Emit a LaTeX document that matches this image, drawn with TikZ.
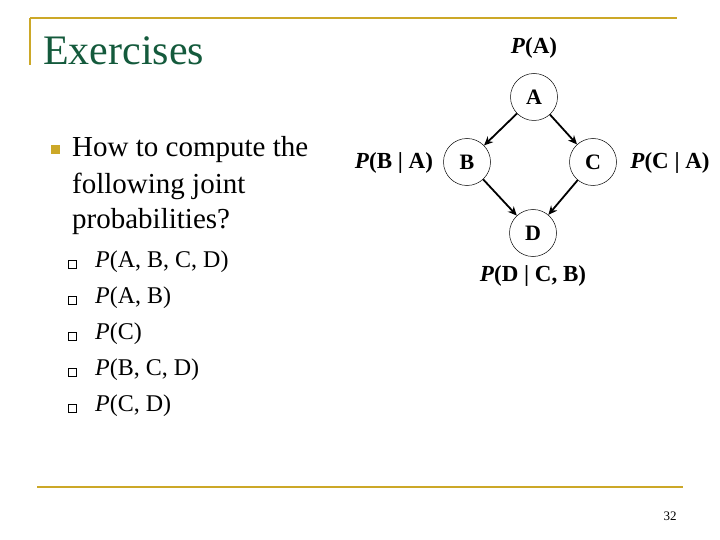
\documentclass[tikz,border=0pt]{standalone}
\usepackage{fontspec}
\setmainfont{Liberation Serif}
\usetikzlibrary{arrows.meta}
\definecolor{gold}{RGB}{204,168,40}
\definecolor{dgreen}{RGB}{20,90,60}
\begin{document}
\begin{tikzpicture}[x=1pt,y=-1pt,
  nd/.style={draw,circle,minimum size=47pt,inner sep=0pt,line width=0.5pt,font=\fontsize{22}{22}\selectfont\bfseries},
  lbl/.style={font=\fontsize{23}{23}\selectfont\bfseries,inner sep=0pt},
  arr/.style={-{Stealth[length=9pt,width=8pt]},line width=1.8pt},
  body/.style={anchor=west,font=\fontsize{29}{29}\selectfont,inner sep=0pt},
  sub/.style={anchor=west,font=\fontsize{24}{24}\selectfont,inner sep=0pt},
  sq/.style={draw=black,fill=white,line width=0.9pt,minimum size=8pt,inner sep=0pt}]
\useasboundingbox (0,0) rectangle (720,540);
\draw[gold,line width=2pt] (30,18) -- (677,18);
\draw[gold,line width=2pt] (30,18) -- (30,65);
\draw[gold,line width=2pt] (37,487) -- (683,487);
\node[anchor=base west,text=dgreen,font=\fontsize{42}{42}\selectfont,inner sep=0pt] (title) at (43,65) {Exercises};
\node[fill=gold,minimum size=9pt,inner sep=0pt] (b1) at (55,150) {};
\node[body] (t1) at (72,150) {How to compute the};
\node[body] (t2) at (72,186) {following joint};
\node[body] (t3) at (72,222) {probabilities?};
\foreach \y/\t [count=\i] in {262/{\textit{P}(A, B, C, D)},298/{\textit{P}(A, B)},334/{\textit{P}(C)},370/{\textit{P}(B, C, D)},406/{\textit{P}(C, D)}}{
  \node[sq] (q\i) at (72,\y+2) {};
  \node[sub] (s\i) at (95,\y) {\t};
}
\node[nd] (A) at (534,97) {A};
\node[nd] (B) at (467,162) {B};
\node[nd] (C) at (593,162) {C};
\node[nd] (D) at (533,233) {D};
\draw[arr] (A) -- (B);
\draw[arr] (A) -- (C);
\draw[arr] (B) -- (D);
\draw[arr] (C) -- (D);
\node[lbl] (pa) at (534,48) {\textit{P}(A)};
\node[lbl] (pb) at (394,163) {\textit{P}(B | A)};
\node[lbl] (pc) at (670,163) {\textit{P}(C | A)};
\node[lbl] (pd) at (533,276) {\textit{P}(D | C, B)};
\node[font=\fontsize{13}{13}\selectfont,inner sep=0pt] (num) at (670,516) {32};
\end{tikzpicture}
\end{document}
